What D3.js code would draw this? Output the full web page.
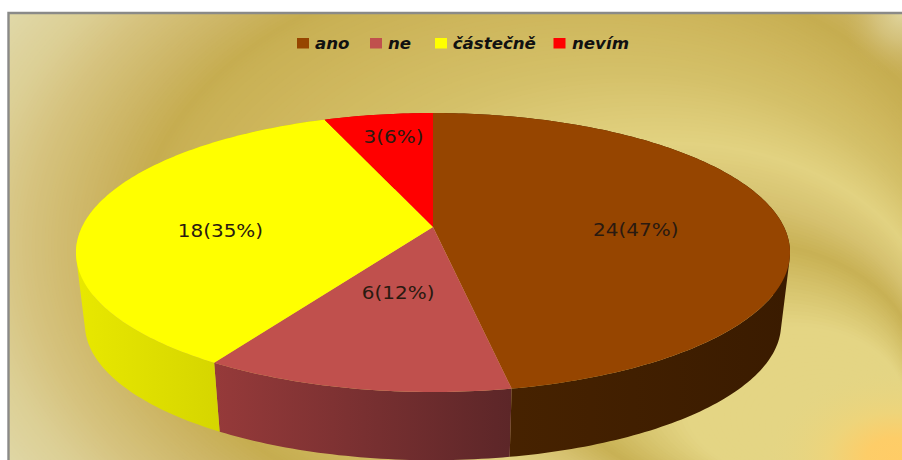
<!DOCTYPE html>
<html><head><meta charset="utf-8">
<script src="https://cdn.jsdelivr.net/npm/d3@7"></script>
<style>html,body{margin:0;padding:0;background:#fff}svg{display:block}</style>
</head><body><div id="c"></div>
<script>
const categories = ["ano","ne","částečně","nevím"];
const values = [24,6,18,3];
const percents = [47,12,35,6];
const topColors = ["#964500","#c0504d","#ffff00","#ff0000"];
const wallFrom = ["#4a2400","#963a3a","#e8e800","#c00000"];
const wallTo = ["#3a1b00","#5c2628","#c8c800","#a00000"];

const W=902,H=460;
const svg=d3.select("#c").append("svg").attr("width",W).attr("height",H);
const defs=svg.append("defs");

// background: layered gold rings drifting out of the lower right corner
defs.append("clipPath").attr("id","plot").append("rect").attr("x",8).attr("y",13).attr("width",W-8).attr("height",H-13);
const ringColor=d3.scaleLinear()
  .domain([0,.28,.45,.54,.65,.8,.9,1.05,1.15,1.33,1.45,1.6])
  .range(["#e4d584","#e4d584","#c8b154","#d6c270","#e2d281","#d4c068","#cfb85e","#c6ad50","#ccb462","#d6c37f","#dccf95","#e0d8a8"])
  .clamp(true);
const ringT=d3.range(1.7,0,-0.008);
const rcx=t=>t<1?885-330*t:555, rcy=t=>t<1?462-217*t:245;
const bgG=svg.append("g").attr("clip-path","url(#plot)");
bgG.append("rect").attr("x",8).attr("y",13).attr("width",W-8).attr("height",H-13).attr("fill",ringColor(1.7));
bgG.selectAll("ellipse").data(ringT).join("ellipse")
  .attr("cx",rcx).attr("cy",rcy).attr("rx",t=>400*t).attr("ry",t=>275*t).attr("fill",t=>ringColor(t));
// corner glows
function glow(id,x,y,rx,ry,stops){
  const g=defs.append("radialGradient").attr("id",id);
  stops.forEach(s=>g.append("stop").attr("offset",s[0]).attr("stop-color",s[1]).attr("stop-opacity",s[2]));
  bgG.append("ellipse").attr("cx",x).attr("cy",y).attr("rx",rx).attr("ry",ry).attr("fill",`url(#${id})`);
}
glow("gBR",895,458,130,90,[[0,"#ffcc66",1],[.22,"#fdcd68",1],[.5,"#eed47a",1],[1,"#e4d584",0]]);
glow("gTR",902,13,60,62,[[0,"#e0d6a0",.95],[.45,"#d8c888",.65],[1,"#ccb462",0]]);
svg.append("path").attr("d",`M8.5,${H}V13H${W}`).attr("fill","none").attr("stroke","#8a8a88").attr("stroke-width",2.4);

// perspective projection of the pie disc
const cx=433,cy=227,A=134.8,B=351,k=-0.183,wallScale=.975,wallShift=78;
const proj=(a,r)=>{const x=Math.sin(a)*r,y=-Math.cos(a)*r,d=1+k*y;return [cx+B*x/d,cy+A*y/d];};
const low=p=>[cx+(p[0]-cx)*wallScale,p[1]*wallScale+wallShift];

const arcs=d3.pie().sort(null)(values);
const line=d3.line();
const step=Math.PI/180;
function samples(a){const n=Math.max(2,Math.ceil((a.endAngle-a.startAngle)/step));
  return d3.range(n+1).map(i=>a.startAngle+(a.endAngle-a.startAngle)*i/n);}

arcs.forEach((a,i)=>{
  const pts=samples(a).map(t=>proj(t,1));
  const xs=pts.map(p=>p[0]);
  const g=defs.append("linearGradient").attr("id","w"+i).attr("gradientUnits","userSpaceOnUse")
    .attr("x1",d3.min(xs)).attr("x2",d3.max(xs)).attr("y1",0).attr("y2",0);
  g.append("stop").attr("offset",0).attr("stop-color",wallFrom[i]);
  g.append("stop").attr("offset",1).attr("stop-color",wallTo[i]);
  let d="";
  for(let j=0;j<pts.length-1;j++){
    let q=[pts[j],pts[j+1],low(pts[j+1]),low(pts[j])];
    if(d3.polygonArea(q)<0) q=q.reverse();
    d+=line(q)+"Z";
  }
  svg.append("path").attr("d",d).attr("fill",`url(#w${i})`);
});
svg.append("g").selectAll("path").data(arcs).join("path")
  .attr("d",a=>line([[cx,cy],...samples(a).map(t=>proj(t,1))])+"Z")
  .attr("fill",(a,i)=>topColors[i]);

// labels (the source picture is stretched horizontally by about 11%)
const stretch=1.11;
const labelR=[.58,.4,.6,.85],labelDx=[2,-7,-5,8],labelDy=[16,15,17,14];
svg.append("g").selectAll("text").data(arcs).join("text")
  .attr("transform",(a,i)=>{const p=proj((a.startAngle+a.endAngle)/2,labelR[i]);
    return `translate(${p[0]+labelDx[i]},${p[1]+labelDy[i]}) scale(${stretch},1)`;})
  .attr("text-anchor","middle")
  .attr("font-family","DejaVu Sans").attr("font-size",18).attr("fill","#2a1a10")
  .text((a,i)=>`${values[i]}(${percents[i]}%)`);

// legend
const swatchX=d3.scaleOrdinal().domain(categories).range([297,370,435,553.5]);
const lg=svg.append("g").selectAll("g").data(categories).join("g")
  .attr("transform",d=>`translate(${swatchX(d)},38)`);
lg.append("rect").attr("width",12).attr("height",10.5).attr("fill",(d,i)=>topColors[i]);
lg.append("text").attr("transform",(d,i)=>`translate(${[18,18,17.7,18.5][i]},11) scale(${stretch},1)`)
  .attr("font-family","DejaVu Sans").attr("font-style","italic").attr("font-weight","bold")
  .attr("font-size",15).attr("fill","#111").text(d=>d);
</script></body></html>
